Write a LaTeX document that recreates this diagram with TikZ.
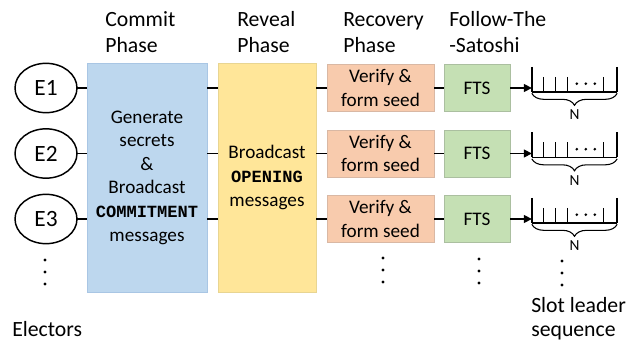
\documentclass[tikz,border=0pt]{standalone}
\usepackage{fontspec}
\setmainfont{Carlito}
\setmonofont{Liberation Mono}
\usetikzlibrary{shapes.geometric,decorations.pathreplacing,arrows.meta}
\definecolor{bluefill}{HTML}{BDD7EE}
\definecolor{blueline}{HTML}{A9C6E4}
\definecolor{yellowfill}{HTML}{FFE699}
\definecolor{yellowline}{HTML}{E8D592}
\definecolor{orangefill}{HTML}{F8CBAD}
\definecolor{orangeline}{HTML}{D9B8A4}
\definecolor{greenfill}{HTML}{C5E0B4}
\definecolor{greenline}{HTML}{ABBFA0}
\begin{document}
\begin{tikzpicture}[x=0.75pt,y=-0.75pt,
  elector/.style={ellipse, draw, line width=1.1pt, minimum width=46.5pt, minimum height=37pt, inner sep=0pt, outer sep=0pt, font=\fontsize{17.5}{20}\selectfont},
  phasebox/.style={draw, line width=0.6pt, inner sep=0pt, outer sep=0pt, align=center, font=\fontsize{14.4}{17.7}\selectfont},
  stepbox/.style={phasebox, minimum height=35.25pt},
  link/.style={line width=1.1pt},
  head/.style={anchor=base west, inner sep=0pt, align=left, font=\fontsize{16.3}{19.5}\selectfont},
  slots/.style={minimum width=64pt, minimum height=18.75pt, inner sep=0pt, outer sep=0pt},
  vdot/.style={circle, fill, inner sep=0pt, minimum size=2.6pt}]
\useasboundingbox (0,0) rectangle (636,341);

% headings
\node[head] (hcommit) at (105,53) {Commit\\Phase};
\node[head] (hreveal) at (237,53) {Reveal\\Phase};
\node[head] (hrecov) at (343,53) {Recovery\\Phase};
\node[head] (hfts) at (449,53) {Follow-The\\-Satoshi};

% big phase boxes
\node[phasebox, fill=bluefill, draw=blueline, minimum width=90pt, minimum height=171.75pt] (commit) at (147,177.5)
  {Generate\\secrets\\\&\\Broadcast\\{\fontsize{12.8}{17.7}\selectfont\ttfamily\bfseries COMMITMENT}\\messages};
\node[phasebox, fill=yellowfill, draw=yellowline, minimum width=73.5pt, minimum height=171.75pt] (reveal) at (267,177.5)
  {Broadcast\\{\fontsize{12.8}{17.7}\selectfont\ttfamily\bfseries OPENING}\\messages};

\foreach \i/\y in {1/88,2/153.5,3/219}{
  \node[elector] (e\i) at (46,\y) {E\i};
  \node[stepbox, fill=orangefill, draw=orangeline, minimum width=80.25pt] (v\i) at (380.5,\y) {Verify \&\\form seed};
  \node[stepbox, fill=greenfill, draw=greenline, minimum width=49.5pt] (f\i) at (477,\y) {FTS};
  \node[slots] (s\i) at (574.5,\y-8.5) {};
  \draw[link] (e\i.east) -- (e\i.east -| commit.west);
  \draw[link] (commit.east |- e\i.east) -- (reveal.west |- e\i.east);
  \draw[link] (reveal.east |- e\i.east) -- (v\i.west);
  \draw[link] (v\i.east) -- (f\i.west);
  \draw[link, -{Triangle[length=6pt,width=6pt]}] (f\i.east) -- (s\i.west |- f\i.east);
  % slot array
  \draw[line width=1.8pt] (s\i.north west) -- (s\i.south west);
  \draw[line width=1.8pt] (s\i.north east) -- (s\i.south east);
  \draw[line width=1pt] (s\i.south west) -- (s\i.south east);
  \foreach \dx in {12,24,36,72}{
    \draw[line width=0.7pt] ([xshift=\dx*0.75pt,yshift=-7.5pt]s\i.north west) -- ([xshift=\dx*0.75pt]s\i.south west);
  }
  \foreach \dx in {45,54,63}{
    \fill ([xshift=\dx*0.75pt,yshift=-12.5pt]s\i.north west) circle (1.1pt);
  }
  \draw[line width=0.8pt, decorate, decoration={brace, mirror, amplitude=9pt, raise=1pt}] (s\i.south west) -- (s\i.south east);
  \node[font=\fontsize{11.5}{13}\selectfont, inner sep=0pt] (n\i) at (574.5,\y+27) {N};
}

% vertical dots
\foreach \x/\yy in {45/260,383/258,479/259,562/261}{
  \foreach \k in {0,12,24}{
    \node[vdot] at (\x,\yy+\k) {};
  }
}

\node[anchor=base west, inner sep=0pt, font=\fontsize{16.3}{19.5}\selectfont] (electors) at (12,337) {Electors};
\node[anchor=base west, inner sep=0pt, align=left, font=\fontsize{16.3}{18}\selectfont] (slotseq) at (531,337) {Slot leader\\sequence};
\end{tikzpicture}
\end{document}
